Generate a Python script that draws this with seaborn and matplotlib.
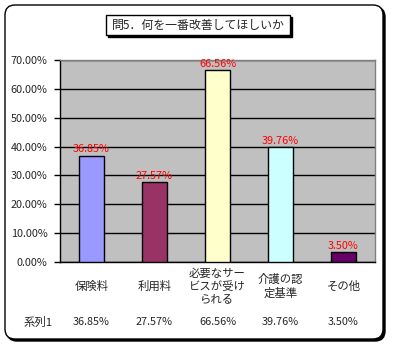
import matplotlib
matplotlib.use("Agg")
import matplotlib.pyplot as plt
import matplotlib.transforms as mtransforms
from matplotlib.patches import FancyBboxPatch, Rectangle
from matplotlib.ticker import FuncFormatter, MultipleLocator
import seaborn as sns
import pandas as pd

# --- data -------------------------------------------------------------
title = "問5．何を一番改善してほしいか"
categories = ["保険料", "利用料", "必要なサー\nビスが受け\nられる", "介護の認\n定基準", "その他"]
values = [36.85, 27.57, 66.56, 39.76, 3.50]
series_name = "系列1"
bar_colors = ["#9999FF", "#993366", "#FFFFCC", "#CCFFFF", "#660066"]

sns.set_theme(style="white")
plt.rcParams["font.family"] = ["Noto Sans CJK JP", "DejaVu Sans"]

W, H = 393, 348
fig = plt.figure(figsize=(W / 100, H / 100), dpi=100)
fig.patch.set_facecolor("white")

def px(x, y, w, h):
    return [x / W, 1 - (y + h) / H, w / W, h / H]

# outer rounded frame with drop shadow (display-pixel coordinates)
ident = mtransforms.IdentityTransform()
shadow = FancyBboxPatch((7, H - 341), 378, 334, boxstyle="round,pad=0,rounding_size=10",
                        transform=ident, facecolor="black", edgecolor="black", lw=1, zorder=0)
frame = FancyBboxPatch((5, H - 339), 378, 334, boxstyle="round,pad=0,rounding_size=10",
                       transform=ident, facecolor="white", edgecolor="black", lw=1, zorder=1)
fig.patches.extend([shadow, frame])

# title box with shadow
fig.patches.append(Rectangle((108, H - 37), 184, 20, transform=ident,
                             facecolor="black", edgecolor="black", lw=1, zorder=2))
fig.patches.append(Rectangle((106, H - 35), 184, 20, transform=ident,
                             facecolor="white", edgecolor="black", lw=1, zorder=3))
fig.text(198 / W, 1 - 25 / H, title, ha="center", va="center", fontsize=8.6, zorder=4)

# plot area
ax = fig.add_axes(px(60, 60, 315, 202))
ax.set_facecolor("#C0C0C0")
ax.set_zorder(5)

df = pd.DataFrame({"cat": categories, "val": values})
sns.barplot(data=df, x="cat", y="val", hue="cat", palette=bar_colors, width=0.4,
            edgecolor="black", linewidth=1, legend=False, ax=ax, zorder=3, saturation=1)

ax.set_ylim(0, 70)
ax.set_xlim(-0.5, len(categories) - 0.5)
ax.yaxis.set_major_locator(MultipleLocator(10))
ax.yaxis.set_major_formatter(FuncFormatter(lambda v, p: f"{v:.2f}%"))
ax.grid(axis="y", color="black", lw=1, zorder=0)
ax.set_axisbelow(True)
ax.tick_params(axis="y", which="major", left=True, length=4, width=1, color="black",
               labelsize=7.8, pad=5)
ax.tick_params(axis="x", bottom=False, labelbottom=False)
ax.set_xlabel("")
ax.set_ylabel("")
for s in ["left", "bottom"]:
    ax.spines[s].set_color("black")
    ax.spines[s].set_linewidth(1)
for s in ["top", "right"]:
    ax.spines[s].set_color("#808080")
    ax.spines[s].set_linewidth(1)

# value labels
for i, v in enumerate(values):
    ax.annotate(f"{v:.2f}%", (i, v), xytext=(0, 1), textcoords="offset points",
                ha="center", va="bottom", color="red", fontsize=7.8, zorder=6)

# category labels and data table row below the plot
blend = mtransforms.blended_transform_factory(ax.transData, fig.transFigure)
for i, (c, v) in enumerate(zip(categories, values)):
    fig.text(i, 1 - 286 / H, c, transform=blend, ha="center", va="center",
             fontsize=8.2, linespacing=1.25)
    fig.text(i, 1 - 322 / H, f"{v:.2f}%", transform=blend, ha="center", va="center",
             fontsize=7.8)
fig.text(38 / W, 1 - 322 / H, series_name, ha="center", va="center", fontsize=8.2)

fig.savefig("out.png", dpi=100, facecolor="white")
